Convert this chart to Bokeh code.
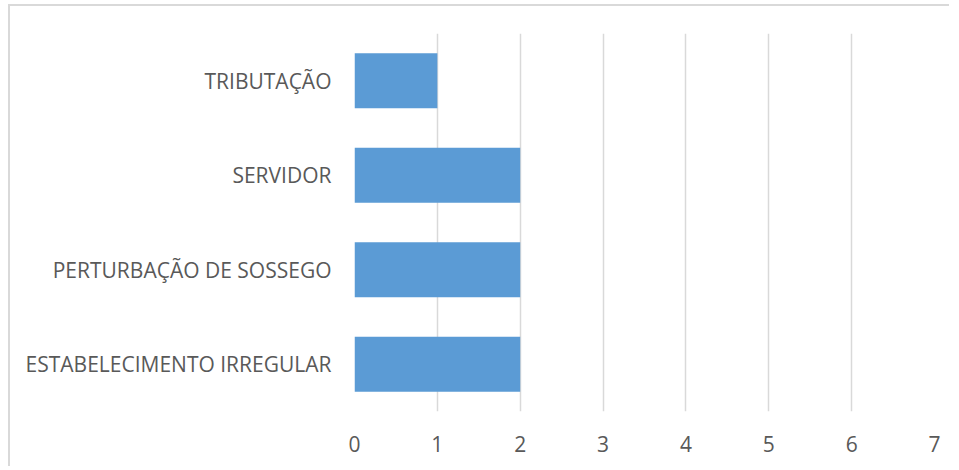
from bokeh.plotting import figure
from bokeh.embed import file_html
from bokeh.resources import INLINE
from bokeh.models import ColumnDataSource, FixedTicker

categories = ["ESTABELECIMENTO IRREGULAR", "PERTURBAÇÃO DE SOSSEGO", "SERVIDOR", "TRIBUTAÇÃO"]
values = [2, 2, 2, 1]
x_ticks = [0, 1, 2, 3, 4, 5, 6, 7]

src = ColumnDataSource(dict(cat=categories, val=values))

p = figure(width=941, height=462, y_range=categories, x_range=(0, 7),
           output_backend="svg", toolbar_location=None,
           min_border_left=344, min_border_right=17, min_border_top=27, min_border_bottom=57)
p.styles = {"border-left": "2px solid #d9d9d9", "border-top": "2px solid #d9d9d9",
            "margin-left": "8px", "margin-top": "4px"}
p.y_range.range_padding = 0
p.hbar(y="cat", right="val", left=0, height=0.58, source=src, color="#5b9bd5", line_color=None)

p.outline_line_color = None
p.ygrid.grid_line_color = None
p.xgrid.grid_line_color = "#d9d9d9"
p.xgrid.grid_line_width = 1.5
p.xaxis.ticker = FixedTicker(ticks=x_ticks)
for ax in (p.xaxis[0], p.yaxis[0]):
    ax.axis_line_color = None
    ax.major_tick_line_color = None
    ax.minor_tick_line_color = None
    ax.major_label_text_font = "Open Sans"
    ax.major_label_text_color = "#595959"
    ax.major_label_text_font_size = "21px"
p.xaxis.major_label_standoff = 18
p.yaxis.major_label_standoff = 17

open("out.html", "w").write(file_html(p, INLINE))
